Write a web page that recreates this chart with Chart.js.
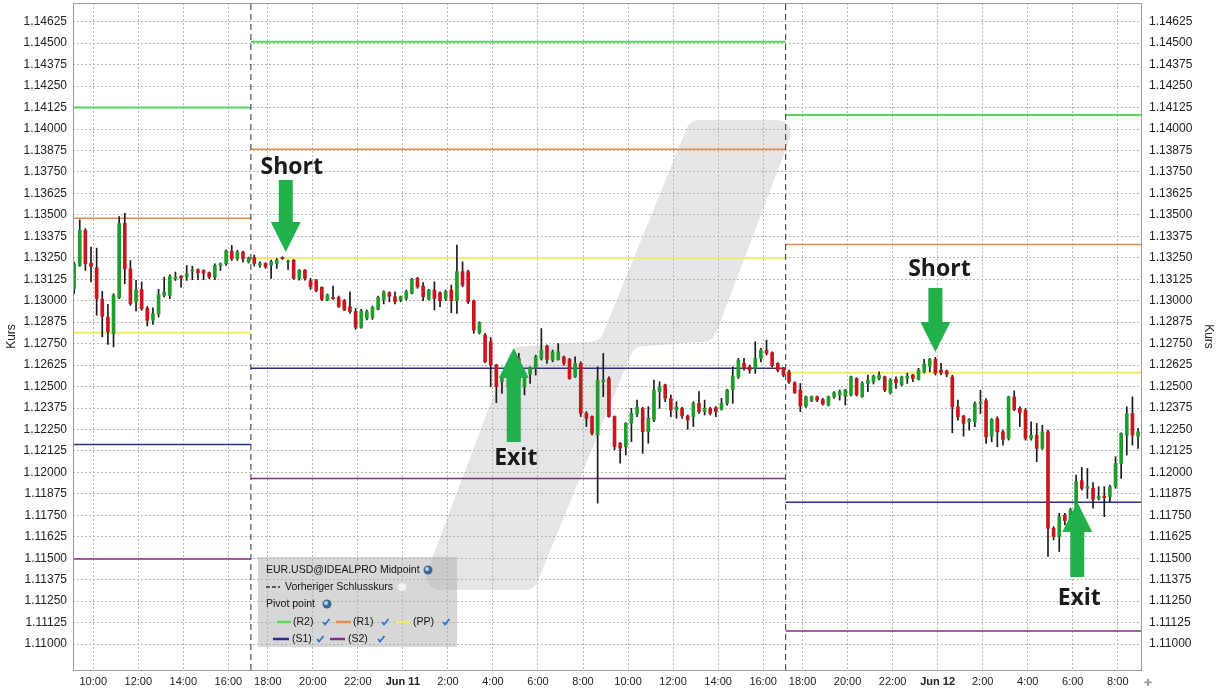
<!DOCTYPE html>
<html>
<head>
<meta charset="utf-8">
<script src="https://cdn.jsdelivr.net/npm/chart.js@4.4.0/dist/chart.umd.min.js"></script>
<style>
  body { margin: 0; background: #fff; }
</style>
</head>
<body>
<canvas id="myChart" width="1220" height="694"></canvas>
<script>
// 15-Minuten-Kerzen EUR.USD, Slot 0 = 10:00 am 10. Juni (Pause 17:00-17:15 wird übersprungen)
var firstSlot = -4;

var opens = [
  // Jun 10
  1.13070,1.13205,1.13409,1.13219,1.13192,1.13008,1.12905,1.12808,1.13017,1.13450,
  1.13186,1.12992,1.13064,1.12957,1.12886,1.12924,1.13031,1.13031,1.13128,1.13143,
  1.13138,1.13172,1.13180,1.13176,1.13163,1.13138,1.13205,1.13215,1.13289,1.13244,
  1.13283,1.13225,
  // Jun 10 17:15 - Jun 11 17:00
  1.13252,1.13207,1.13217,1.13207,1.13217,1.13252,1.13225,1.13236,1.13130,1.13178,
  1.13116,1.13116,1.13078,1.13004,1.13019,1.13019,1.13000,1.12965,1.12936,1.12845,
  1.12897,1.12903,1.12950,1.13008,1.13046,1.13023,1.13004,1.13014,1.13043,1.13130,
  1.13085,1.13008,1.13062,1.13046,1.13014,1.13062,1.13000,1.13169,1.13169,1.13000,
  1.12813,1.12799,1.12761,1.12625,1.12528,1.12557,1.12606,1.12664,1.12499,1.12573,
  1.12606,1.12664,1.12735,1.12654,1.12658,1.12673,1.12658,1.12557,1.12635,1.12344,
  1.12325,1.12218,1.12528,1.12547,1.12325,1.12170,1.12150,1.12286,1.12340,1.12373,
  1.12237,1.12305,1.12470,1.12509,1.12431,1.12363,1.12373,1.12329,1.12325,1.12402,
  1.12354,1.12373,1.12377,1.12367,1.12402,1.12480,1.12557,1.12635,1.12615,1.12606,
  1.12664,1.12712,1.12697,1.12635,1.12606,
  // Jun 11 17:15 - Jun 12
  1.12586,1.12522,1.12480,1.12387,1.12418,1.12441,1.12425,1.12392,1.12441,1.12451,
  1.12445,1.12451,1.12547,1.12441,1.12518,1.12528,1.12547,1.12557,1.12464,1.12542,
  1.12509,1.12547,1.12567,1.12542,1.12586,1.12619,1.12658,1.12596,1.12590,1.12556,
  1.12382,1.12328,1.12295,1.12295,1.12401,1.12417,1.12211,1.12314,1.12236,1.12198,
  1.12440,1.12372,1.12362,1.12198,1.12217,1.12140,1.12236,1.11674,1.11626,1.11752,
  1.11694,1.11781,1.11952,1.11907,1.11907,1.11849,1.11862,1.11859,1.11917,1.12052,
  1.12217,1.12343,1.12211
];

var highs = [
  1.13225,1.13471,1.13420,1.13312,1.13306,1.13054,1.12979,1.13041,1.13490,1.13509,
  1.13234,1.13118,1.13109,1.12967,1.12959,1.13066,1.13138,1.13151,1.13167,1.13147,
  1.13205,1.13200,1.13186,1.13180,1.13167,1.13215,1.13219,1.13297,1.13322,1.13293,
  1.13289,1.13254,
  1.13266,1.13227,1.13221,1.13236,1.13246,1.13256,1.13236,1.13240,1.13182,1.13182,
  1.13130,1.13124,1.13081,1.13039,1.13085,1.13027,1.13008,1.13052,1.12955,1.12950,
  1.12946,1.12969,1.13027,1.13058,1.13052,1.13052,1.13027,1.13062,1.13130,1.13136,
  1.13105,1.13066,1.13110,1.13052,1.13062,1.13091,1.13324,1.13227,1.13178,1.13004,
  1.12877,1.12809,1.12786,1.12630,1.12577,1.12615,1.12677,1.12693,1.12577,1.12615,
  1.12683,1.12838,1.12741,1.12712,1.12751,1.12677,1.12664,1.12673,1.12644,1.12354,
  1.12329,1.12615,1.12693,1.12557,1.12329,1.12173,1.12290,1.12373,1.12421,1.12379,
  1.12383,1.12538,1.12528,1.12514,1.12451,1.12412,1.12379,1.12334,1.12412,1.12470,
  1.12421,1.12379,1.12383,1.12431,1.12484,1.12615,1.12664,1.12664,1.12625,1.12761,
  1.12722,1.12770,1.12702,1.12639,1.12611,
  1.12596,1.12528,1.12518,1.12445,1.12445,1.12445,1.12431,1.12445,1.12470,1.12480,
  1.12484,1.12561,1.12551,1.12528,1.12567,1.12567,1.12586,1.12561,1.12547,1.12557,
  1.12561,1.12577,1.12571,1.12606,1.12658,1.12664,1.12670,1.12635,1.12596,1.12566,
  1.12421,1.12333,1.12314,1.12411,1.12479,1.12430,1.12314,1.12324,1.12246,1.12444,
  1.12475,1.12382,1.12372,1.12295,1.12285,1.12275,1.12246,1.11684,1.11762,1.11762,
  1.11791,1.11984,1.12029,1.12023,1.11940,1.11917,1.11917,1.11926,1.12091,1.12231,
  1.12382,1.12440,1.12256
];

var lows = [
  1.13041,1.13200,1.13176,1.13109,1.12915,1.12789,1.12746,1.12731,1.13012,1.13099,
  1.12973,1.12940,1.12944,1.12853,1.12862,1.12905,1.13021,1.13012,1.13118,1.13079,
  1.13118,1.13122,1.13122,1.13122,1.13128,1.13122,1.13176,1.13205,1.13234,1.13234,
  1.13225,1.13219,
  1.13202,1.13194,1.13188,1.13130,1.13188,1.13240,1.13182,1.13124,1.13120,1.13120,
  1.13066,1.13052,1.13000,1.13000,1.13008,1.12961,1.12942,1.12926,1.12833,1.12839,
  1.12888,1.12891,1.12946,1.12981,1.12994,1.12981,1.12994,1.13004,1.13039,1.13072,
  1.13000,1.13004,1.12946,1.12965,1.13000,1.12930,1.12926,1.13081,1.12984,1.12810,
  1.12806,1.12639,1.12499,1.12406,1.12460,1.12499,1.12567,1.12509,1.12451,1.12518,
  1.12567,1.12654,1.12635,1.12644,1.12654,1.12625,1.12542,1.12553,1.12325,1.12267,
  1.12218,1.11821,1.12441,1.12321,1.12131,1.12053,1.12102,1.12179,1.12325,1.12111,
  1.12170,1.12296,1.12373,1.12412,1.12325,1.12315,1.12315,1.12251,1.12267,1.12344,
  1.12334,1.12334,1.12325,1.12363,1.12392,1.12402,1.12547,1.12596,1.12577,1.12577,
  1.12644,1.12683,1.12615,1.12586,1.12557,
  1.12518,1.12460,1.12354,1.12379,1.12412,1.12412,1.12392,1.12387,1.12431,1.12421,
  1.12392,1.12445,1.12445,1.12437,1.12470,1.12515,1.12538,1.12470,1.12456,1.12489,
  1.12503,1.12518,1.12528,1.12538,1.12580,1.12586,1.12567,1.12567,1.12557,1.12231,
  1.12304,1.12211,1.12246,1.12266,1.12343,1.12169,1.12178,1.12149,1.12159,1.12188,
  1.12359,1.12266,1.12188,1.12188,1.12062,1.12134,1.11510,1.11607,1.11539,1.11694,
  1.11684,1.11771,1.11897,1.11849,1.11791,1.11839,1.11742,1.11829,1.11907,1.11965,
  1.12101,1.12159,1.12140
];

var closes = [
  1.13215,1.13409,1.13215,1.13200,1.13012,1.12909,1.12818,1.13031,1.13450,1.13186,
  1.12983,1.13064,1.12953,1.12886,1.12924,1.13035,1.13050,1.13141,1.13138,1.13132,
  1.13157,1.13180,1.13163,1.13161,1.13138,1.13205,1.13215,1.13289,1.13244,1.13283,
  1.13244,1.13250,
  1.13217,1.13217,1.13198,1.13227,1.13236,1.13246,1.13231,1.13130,1.13178,1.13130,
  1.13081,1.13058,1.13008,1.13033,1.13012,1.12965,1.12946,1.12936,1.12845,1.12942,
  1.12936,1.12961,1.13019,1.13052,1.13027,1.12994,1.13023,1.13052,1.13124,1.13081,
  1.13023,1.13062,1.13014,1.13000,1.13052,1.13000,1.13169,1.13091,1.12994,1.12829,
  1.12871,1.12644,1.12625,1.12499,1.12567,1.12611,1.12664,1.12528,1.12573,1.12611,
  1.12673,1.12712,1.12658,1.12702,1.12702,1.12635,1.12547,1.12635,1.12344,1.12315,
  1.12228,1.12538,1.12538,1.12325,1.12150,1.12141,1.12286,1.12344,1.12379,1.12237,
  1.12315,1.12480,1.12495,1.12431,1.12363,1.12383,1.12329,1.12305,1.12402,1.12354,
  1.12373,1.12344,1.12354,1.12402,1.12480,1.12561,1.12654,1.12606,1.12596,1.12664,
  1.12712,1.12693,1.12625,1.12596,1.12567,
  1.12528,1.12464,1.12387,1.12441,1.12441,1.12421,1.12398,1.12441,1.12464,1.12470,
  1.12480,1.12557,1.12451,1.12518,1.12538,1.12561,1.12567,1.12480,1.12538,1.12522,
  1.12557,1.12561,1.12547,1.12596,1.12631,1.12658,1.12577,1.12580,1.12573,1.12382,
  1.12324,1.12285,1.12308,1.12401,1.12411,1.12207,1.12308,1.12236,1.12192,1.12440,
  1.12366,1.12347,1.12198,1.12217,1.12140,1.12236,1.11674,1.11626,1.11742,1.11719,
  1.11781,1.11946,1.11907,1.11917,1.11843,1.11862,1.11853,1.11917,1.12052,1.12227,
  1.12343,1.12217,1.12236
];

// Pivot-Punkte je Handelstag (Slot-Bereich)
var dayStart = [-3.6, 28, 123];
var dayEnd = [28, 123, 186.3];
var pivotR2 = [1.14125, 1.14508, 1.14082];
var pivotR1 = [1.13480, 1.13882, 1.13328];
var pivotPP = [1.12813, 1.13249, 1.12580];
var pivotS1 = [1.12163, 1.12606, 1.11826];
var pivotS2 = [1.11495, 1.11965, 1.11076];
var sessionBreaks = [28, 123];

var xTickPos = [0, 8, 16, 24, 31, 39, 47, 55, 63, 71, 79, 87, 95, 103, 111, 119, 126, 134, 142, 150, 158, 166, 174, 182];
var xTickLabels = ["10:00","12:00","14:00","16:00","18:00","20:00","22:00","Jun 11","2:00","4:00","6:00","8:00",
                   "10:00","12:00","14:00","16:00","18:00","20:00","22:00","Jun 12","2:00","4:00","6:00","8:00"];
var yTicks = [1.11000,1.11125,1.11250,1.11375,1.11500,1.11625,1.11750,1.11875,1.12000,1.12125,
              1.12250,1.12375,1.12500,1.12625,1.12750,1.12875,1.13000,1.13125,1.13250,1.13375,
              1.13500,1.13625,1.13750,1.13875,1.14000,1.14125,1.14250,1.14375,1.14500,1.14625];
var yMin = 1.10849, yMax = 1.14734;
var xMin = -3.6, xMax = 186.3;

// Markierungen (Slot, Kurs an der Pfeilspitze)
var signals = [
  { text: "Short", x: 34.2, y: 1.13283, dir: "down", len: 72, gap: 13, dx: 6 },
  { text: "Short", x: 149.6, y: 1.12701, dir: "down", len: 64, gap: 19, dx: 4 },
  { text: "Exit", x: 74.7, y: 1.12724, dir: "up", len: 94, gap: 16, dx: 2 },
  { text: "Exit", x: 174.8, y: 1.11827, dir: "up", len: 75, gap: 21, dx: 2 }
];

var GREEN = '#1f9d2a', RED = '#c8161c';

var candleX = opens.map(function(o, i) { return firstSlot + i + 0.6; });
var wickData = highs.map(function(h, i) { return { x: candleX[i], y: [lows[i], h] }; });
var bodyData = opens.map(function(o, i) { return { x: candleX[i], y: [o, closes[i]] }; });
var bodyColors = opens.map(function(o, i) { return closes[i] >= o ? GREEN : RED; });

function pivotSeries(vals) {
  var pts = [];
  for (var d = 0; d < vals.length; d++) {
    pts.push({ x: dayStart[d], y: vals[d] });
    pts.push({ x: dayEnd[d], y: vals[d] });
    if (d < vals.length - 1) pts.push({ x: dayEnd[d], y: null });
  }
  return pts;
}

function pivotLine(label, vals, color, width) {
  return { type: 'line', label: label, data: pivotSeries(vals), borderColor: color, borderWidth: width,
           pointRadius: 0, fill: false, spanGaps: false, order: 5 };
}

var datasets = [
  pivotLine('(R2)', pivotR2, '#58d858', 2),
  pivotLine('(R1)', pivotR1, '#e48c48', 1.5),
  pivotLine('(PP)', pivotPP, '#eeee60', 2),
  pivotLine('(S1)', pivotS1, '#2c2f90', 1.5),
  pivotLine('(S2)', pivotS2, '#862c86', 1.5),
  { type: 'bar', label: 'wick', data: wickData, backgroundColor: '#1a1a1a', barThickness: 1, grouped: false, order: 3 },
  { type: 'bar', label: 'body', data: bodyData, backgroundColor: bodyColors, barThickness: 3, minBarLength: 1, grouped: false, order: 2 }
];
sessionBreaks.forEach(function(b) {
  datasets.push({ type: 'line', label: 'break', data: [{ x: b, y: yMin }, { x: b, y: yMax }],
                  borderColor: '#333', borderWidth: 1, borderDash: [6, 4], pointRadius: 0, order: 1 });
});

function roundedPoly(ctx, pts, r) {
  var n = pts.length;
  ctx.beginPath();
  ctx.moveTo((pts[n - 1][0] + pts[0][0]) / 2, (pts[n - 1][1] + pts[0][1]) / 2);
  for (var i = 0; i < n; i++) {
    var p = pts[i], q = pts[(i + 1) % n];
    ctx.arcTo(p[0], p[1], q[0], q[1], r);
  }
  ctx.closePath();
}

function globe(ctx, x, y) {
  ctx.save();
  ctx.beginPath(); ctx.arc(x, y, 4.5, 0, Math.PI * 2);
  ctx.fillStyle = '#3d6a96'; ctx.fill();
  ctx.beginPath(); ctx.arc(x - 1, y - 1, 2, 0, Math.PI * 2);
  ctx.fillStyle = '#b9d3ea'; ctx.fill();
  ctx.restore();
}

function check(ctx, x, y) {
  ctx.save();
  ctx.strokeStyle = '#2f74c8'; ctx.lineWidth = 1.8;
  ctx.beginPath(); ctx.moveTo(x - 3, y); ctx.lineTo(x - 1, y + 2.5); ctx.lineTo(x + 3.5, y - 3);
  ctx.stroke();
  ctx.restore();
}

function swatch(ctx, x1, x2, y, color) {
  ctx.save();
  ctx.strokeStyle = color; ctx.lineWidth = 2.5;
  ctx.beginPath(); ctx.moveTo(x1, y); ctx.lineTo(x2, y); ctx.stroke();
  ctx.restore();
}

function drawArrow(ctx, x, tipY, dir, len) {
  var head = 30, hw = 15, sw = 7;
  var s = dir === 'down' ? -1 : 1;
  ctx.beginPath();
  ctx.moveTo(x, tipY);
  ctx.lineTo(x + hw, tipY + s * head);
  ctx.lineTo(x + sw, tipY + s * head);
  ctx.lineTo(x + sw, tipY + s * len);
  ctx.lineTo(x - sw, tipY + s * len);
  ctx.lineTo(x - sw, tipY + s * head);
  ctx.lineTo(x - hw, tipY + s * head);
  ctx.closePath();
  ctx.fill();
}

function noEdgePadding(s) {
  s.paddingTop = 0; s.paddingBottom = 0; s.paddingLeft = 0; s.paddingRight = 0;
}

var decorations = {
  id: 'decorations',
  beforeDraw: function(chart) {
    // IB-Wasserzeichen hinter dem Gitter
    var ctx = chart.ctx;
    ctx.save();
    ctx.fillStyle = '#e5e5e5';
    roundedPoly(ctx, [[690, 120], [797, 120], [713, 341], [634, 347], [534, 590], [420, 590], [512, 347], [600, 341]], 14);
    ctx.fill();
    ctx.restore();
  },
  afterDatasetsDraw: function(chart) {
    var a = chart.chartArea, ctx = chart.ctx;
    ctx.save();
    ctx.strokeStyle = '#9c9c9c'; ctx.lineWidth = 1;
    ctx.strokeRect(Math.round(a.left) + 0.5, Math.round(a.top) + 0.5, Math.round(a.right - a.left) - 1, Math.round(a.bottom - a.top));
    ctx.restore();
  },
  afterDraw: function(chart) {
    var ctx = chart.ctx, xs = chart.scales.x, ys = chart.scales.y;
    ctx.save();

    // Legende
    ctx.fillStyle = 'rgba(175,175,175,0.5)';
    ctx.fillRect(258, 557, 199, 90);
    ctx.fillStyle = '#111';
    ctx.font = '10.5px "Liberation Sans", Arial, sans-serif';
    ctx.textBaseline = 'middle';
    ctx.textAlign = 'left';
    ctx.fillText('EUR.USD@IDEALPRO Midpoint', 266, 570);
    globe(ctx, 428, 570);
    ctx.save();
    ctx.strokeStyle = '#333'; ctx.lineWidth = 1.5; ctx.setLineDash([4, 2]);
    ctx.beginPath(); ctx.moveTo(266, 587); ctx.lineTo(280, 587); ctx.stroke();
    ctx.restore();
    ctx.fillText('Vorheriger Schlusskurs', 285, 587);
    ctx.beginPath(); ctx.arc(402, 587, 4, 0, Math.PI * 2); ctx.fillStyle = '#f2f2f2'; ctx.fill();
    ctx.fillStyle = '#111';
    ctx.fillText('Pivot point', 266, 604);
    globe(ctx, 327, 604);
    swatch(ctx, 277, 291, 622, '#58d858'); ctx.fillText('(R2)', 293, 622); check(ctx, 326, 622);
    swatch(ctx, 336, 351, 622, '#e48c48'); ctx.fillText('(R1)', 353, 622); check(ctx, 385, 622);
    swatch(ctx, 396, 410, 622, '#eeee60'); ctx.fillText('(PP)', 413, 622); check(ctx, 446, 622);
    swatch(ctx, 273, 289, 639, '#2c2f90'); ctx.fillText('(S1)', 292, 639); check(ctx, 320, 639);
    swatch(ctx, 330, 345, 639, '#862c86'); ctx.fillText('(S2)', 348, 639); check(ctx, 381, 639);

    // Pfeile und Beschriftungen
    ctx.font = 'bold 23px "Open Sans", "Liberation Sans", sans-serif';
    ctx.textAlign = 'center';
    signals.forEach(function(sg) {
      var px = xs.getPixelForValue(sg.x), py = ys.getPixelForValue(sg.y);
      ctx.fillStyle = '#22b04b';
      drawArrow(ctx, px, py, sg.dir, sg.len);
      ctx.fillStyle = '#1a1a1a';
      var ty = sg.dir === 'down' ? py - sg.len - sg.gap : py + sg.len + sg.gap;
      ctx.fillText(sg.text, px + sg.dx, ty);
    });

    // kleines Symbol unten rechts
    ctx.fillStyle = '#9a9a9a';
    ctx.font = '10px "DejaVu Sans", sans-serif';
    ctx.fillText('\u271A', 1148, 683);
    ctx.restore();
  }
};

Chart.defaults.font.family = '"Liberation Sans", Arial, sans-serif';

new Chart(document.getElementById('myChart').getContext('2d'), {
  type: 'bar',
  data: { datasets: datasets },
  options: {
    responsive: false,
    animation: false,
    devicePixelRatio: 1,
    layout: { padding: { top: 3, left: 0, right: 0, bottom: 0 } },
    plugins: { legend: { display: false }, tooltip: { enabled: false } },
    scales: {
      x: {
        type: 'linear', min: xMin, max: xMax, offset: false,
        grid: { color: '#b6b6b6', drawTicks: false, offset: false },
        border: { display: false, dash: [2, 2] },
        afterBuildTicks: function(s) { s.ticks = xTickPos.map(function(v) { return { value: v }; }); },
        afterFit: function(s) { s.height = 24; noEdgePadding(s); },
        ticks: {
          autoSkip: false, maxRotation: 0, padding: 5, color: '#222',
          font: function(ctx) {
            var lbl = xTickLabels[ctx.index] || '';
            return { size: 11, weight: lbl.indexOf('Jun') === 0 ? 'bold' : 'normal' };
          },
          callback: function(v) { return xTickLabels[xTickPos.indexOf(v)]; }
        }
      },
      y: {
        type: 'linear', position: 'left', min: yMin, max: yMax,
        grid: { color: '#b6b6b6', drawTicks: false },
        border: { display: false, dash: [2, 2] },
        afterBuildTicks: function(s) { s.ticks = yTicks.map(function(v) { return { value: v }; }); },
        afterFit: function(s) { s.width = 73; noEdgePadding(s); },
        ticks: { autoSkip: false, padding: 6, color: '#222', font: { size: 12 }, callback: function(v) { return v.toFixed(5); } },
        title: { display: true, text: 'Kurs', color: '#222', font: { size: 12 } }
      },
      y2: {
        type: 'linear', position: 'right', min: yMin, max: yMax,
        grid: { display: false, drawTicks: false },
        border: { display: false },
        afterBuildTicks: function(s) { s.ticks = yTicks.map(function(v) { return { value: v }; }); },
        afterFit: function(s) { s.width = 78; noEdgePadding(s); },
        ticks: { autoSkip: false, padding: 7, color: '#222', font: { size: 12 }, callback: function(v) { return v.toFixed(5); } },
        title: { display: true, text: 'Kurs', color: '#222', font: { size: 12 } }
      }
    }
  },
  plugins: [decorations]
});
</script>
</body>
</html>
